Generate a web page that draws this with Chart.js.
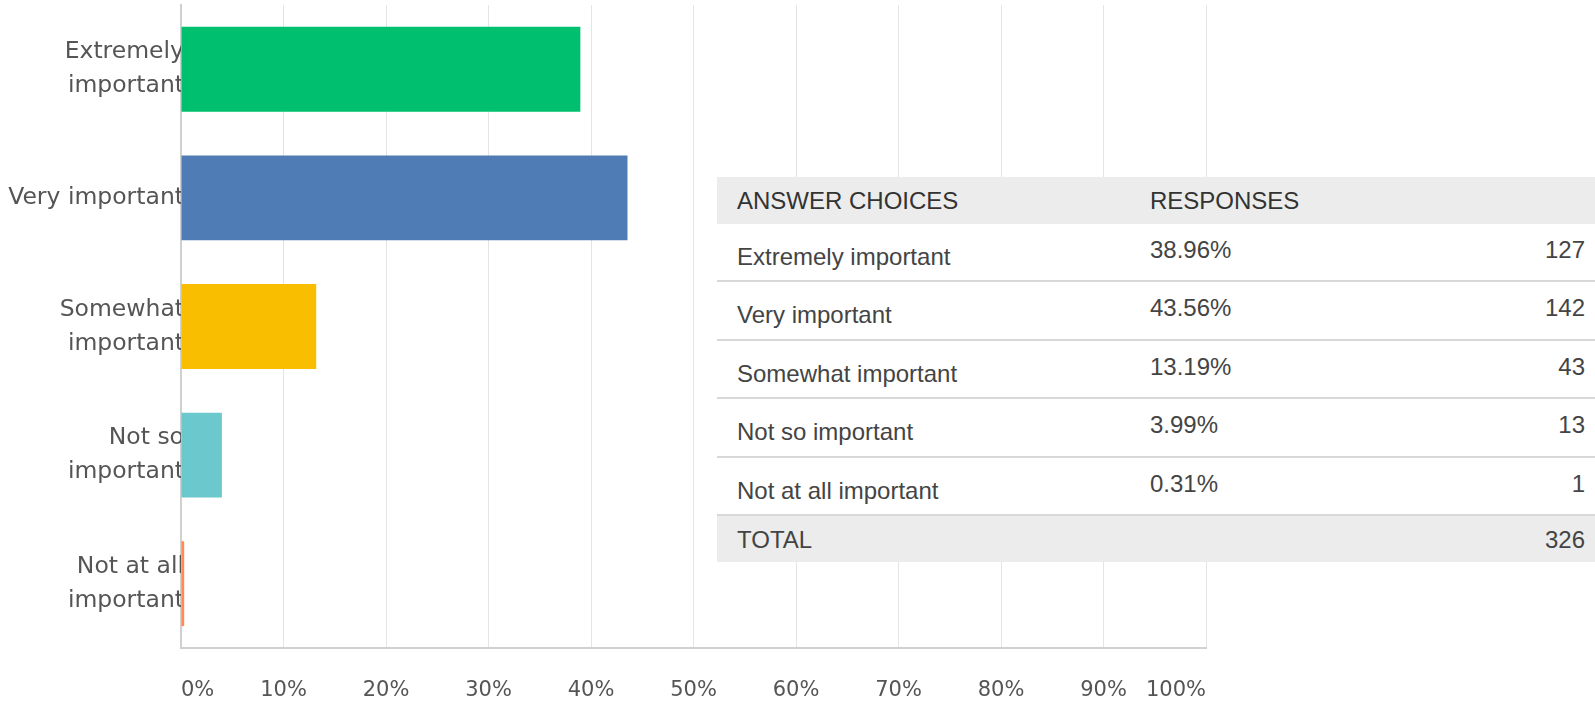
<!DOCTYPE html>
<html>
<head>
<meta charset="utf-8">
<script src="https://cdn.jsdelivr.net/npm/chart.js@4"></script>
<style>
  body { margin: 0; background: #fff; }
  #wrap { position: relative; width: 1595px; height: 701px; }
  #tbl { position: absolute; left: 717px; top: 177px; width: 878px; height: 386px;
         font-family: "Liberation Sans", Arial, sans-serif; font-size: 24px; color: #444; }
  #tbl div { position: absolute; box-sizing: border-box; }
  .band { left: 0; width: 878px; background: #ececec; }
  .row { left: 0; width: 878px; background: #fff; border-bottom: 2px solid #d8d8d8; }
  .t { line-height: 28px; white-space: nowrap; }
</style>
</head>
<body>
<div id="wrap">
  <canvas id="chart" width="1595" height="701"></canvas>
  <div id="tbl"></div>
</div>
<script>
const categories = ['Extremely important', 'Very important', 'Somewhat important', 'Not so important', 'Not at all important'];
const axisLabels = [['Extremely', 'important'], 'Very important', ['Somewhat', 'important'], ['Not so', 'important'], ['Not at all', 'important']];
const percents = [38.96, 43.56, 13.19, 3.99, 0.31];
const counts = [127, 142, 43, 13, 1];
const total = 326;
const xTicks = [0, 10, 20, 30, 40, 50, 60, 70, 80, 90, 100];
const barColors = ['#00bf6f', '#507cb6', '#f9be00', '#6bc8cd', '#ff8b4f'];

// table
const tbl = document.getElementById('tbl');
let html = '<div class="band" style="top:0;height:47px">' +
  '<div class="t" style="left:20px;top:10px;color:#333">ANSWER CHOICES</div>' +
  '<div class="t" style="left:433px;top:10px;color:#333">RESPONSES</div></div>';
categories.forEach((c, i) => {
  const top = 47 + i * 58.4;
  html += '<div class="row" style="top:' + top + 'px;height:58.4px">' +
    '<div class="t" style="left:20px;top:19px">' + c + '</div>' +
    '<div class="t" style="left:433px;top:12px">' + percents[i].toFixed(2) + '%</div>' +
    '<div class="t" style="right:10px;top:12px">' + counts[i] + '</div></div>';
});
html += '<div class="band" style="top:339px;height:46px">' +
  '<div class="t" style="left:20px;top:10px">TOTAL</div>' +
  '<div class="t" style="right:10px;top:10px">' + total + '</div></div>';
tbl.innerHTML = html;

const ctx = document.getElementById('chart').getContext('2d');
new Chart(ctx, {
  type: 'bar',
  data: {
    labels: axisLabels,
    datasets: [{
      data: percents,
      backgroundColor: barColors,
      categoryPercentage: 0.66,
      barPercentage: 1
    }]
  },
  options: {
    indexAxis: 'y',
    responsive: false,
    animation: false,
    layout: { padding: { left: 0, right: 389, top: 5, bottom: 0 } },
    plugins: { legend: { display: false }, tooltip: { enabled: false } },
    scales: {
      x: {
        min: 0, max: 100,
        afterBuildTicks: s => { s.ticks = xTicks.map(v => ({ value: v })); },
        afterFit: s => { s.height = 53; s.paddingLeft = 0; s.paddingRight = 0; },
        grid: { color: '#e4e4e4', lineWidth: 1, drawTicks: false },
        border: { color: '#d0d0d0', width: 2 },
        ticks: {
          callback: v => v + '%',
          align: 'inner',
          padding: 30,
          color: '#555',
          font: { family: 'DejaVu Sans', size: 21 }
        }
      },
      y: {
        z: 1,
        afterFit: s => { s.width = 181; s.paddingTop = 0; s.paddingBottom = 0; },
        grid: { display: false, drawTicks: false },
        border: { color: '#d0d0d0', width: 2 },
        ticks: {
          padding: -3,
          color: '#555',
          font: { family: 'DejaVu Sans', size: 23.5, lineHeight: 1.45 }
        }
      }
    }
  }
});
</script>
</body>
</html>
